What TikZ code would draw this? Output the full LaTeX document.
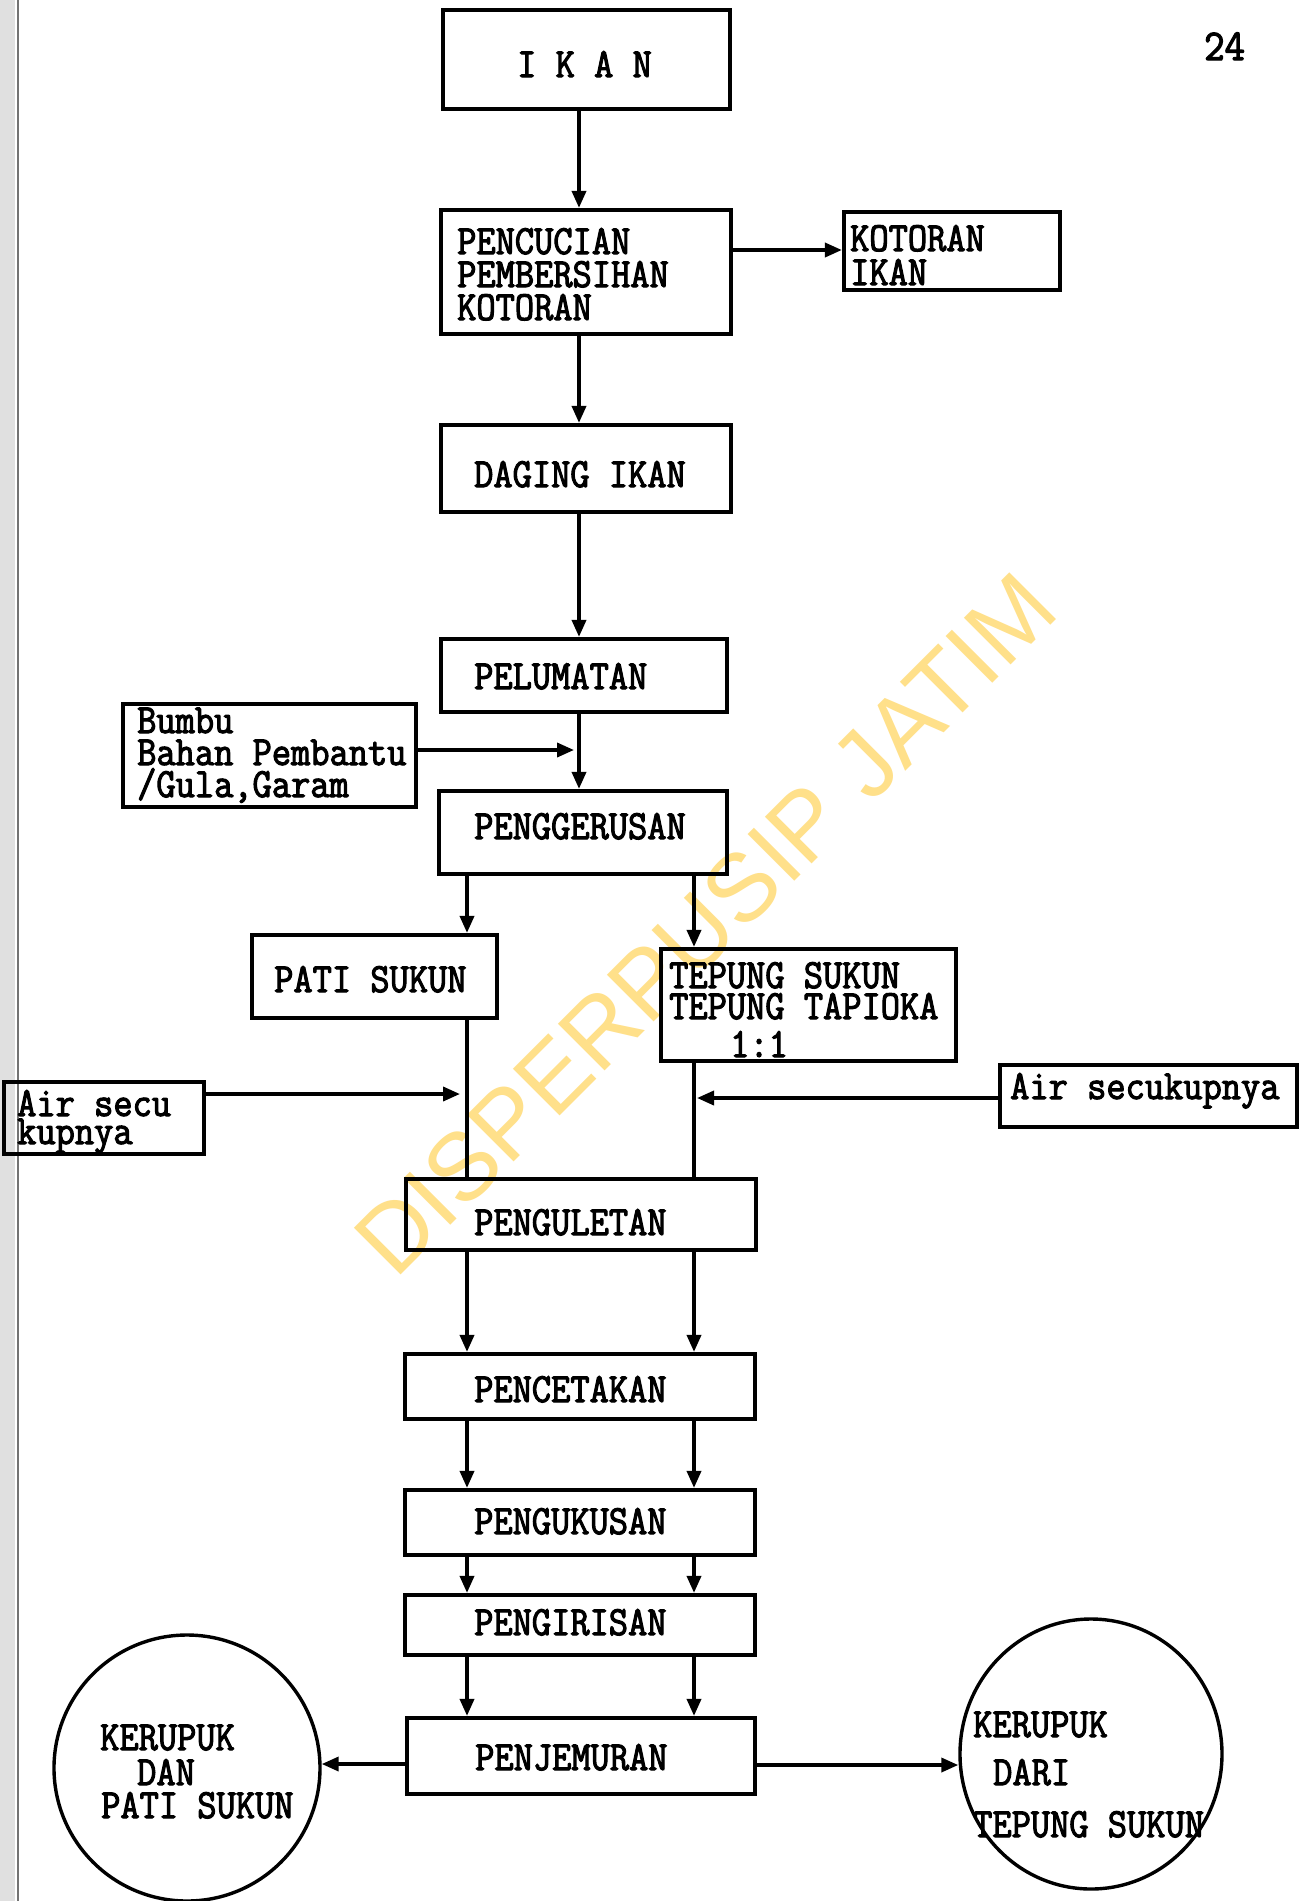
\documentclass[tikz,border=0pt]{standalone}
\usepackage{fontspec}
\usetikzlibrary{arrows.meta,shapes.geometric}
\newfontfamily\tw{Latin Modern Mono}[FakeBold=2.6,FakeStretch=0.9]
\newfontfamily\wmfont{Liberation Sans}
\definecolor{wmyellow}{RGB}{255,224,138}
\tikzset{
  box/.style={draw, line width=4.2pt, rectangle, inner sep=0pt},
  circ/.style={draw, line width=3.4pt, ellipse, inner sep=0pt},
  txt/.style={inner sep=0pt, anchor=base west, font=\tw\fontsize{41.5}{41.5}\selectfont},
  arr/.style={line width=3.6pt, -{Triangle[length=17pt,width=14pt]}},
  ln/.style={line width=3.6pt},
  wm/.style={inner sep=0pt, anchor=base, text=wmyellow, font=\wmfont\fontsize{96}{96}\selectfont}
}
\begin{document}
\begin{tikzpicture}[x=1pt,y=-1pt]
\useasboundingbox (0,0) rectangle (1303,1901);
\fill[white] (0,0) rectangle (1303,1901);
% scan strip at the left edge
\fill[black!12] (0,0) rectangle (15,1901);
\draw[black!55, line width=1.5pt] (18,0) -- (18,1901);

% watermark
\node[wm, rotate=45] (wmark) at (729,947) {DISPERPUSIP JATIM};

% column coordinates
\coordinate (cm) at (579,0);
\coordinate (cL) at (467,0);
\coordinate (cR) at (694,0);
\coordinate (ky) at (0,250);
\coordinate (bj) at (574,750);
\coordinate (al) at (460,1094);
\coordinate (ar) at (697,1098);
\coordinate (ey) at (0,1764);
\coordinate (ez) at (0,1765);

% boxes
\node[box, minimum width=287pt, minimum height=99pt] (ikan) at (586.5,59.5) {};
\node[box, minimum width=290pt, minimum height=124pt] (pc) at (586,272) {};
\node[box, minimum width=216pt, minimum height=78pt] (kot) at (952,251) {};
\node[box, minimum width=290pt, minimum height=87pt] (dag) at (586,468.5) {};
\node[box, minimum width=286pt, minimum height=73pt] (pel) at (584,675.5) {};
\node[box, minimum width=293pt, minimum height=103pt] (bum) at (269.5,755.5) {};
\node[box, minimum width=288pt, minimum height=83pt] (peng) at (583,832.5) {};
\node[box, minimum width=245pt, minimum height=83pt] (pati) at (374.5,976.5) {};
\node[box, minimum width=295pt, minimum height=112pt] (tep) at (808.5,1005) {};
\node[box, minimum width=200pt, minimum height=72pt] (airl) at (104,1118) {};
\node[box, minimum width=297pt, minimum height=62pt] (airr) at (1148.5,1096) {};
\node[box, minimum width=350pt, minimum height=71pt] (gul) at (581,1214.5) {};
\node[box, minimum width=350pt, minimum height=65pt] (cet) at (580,1386.5) {};
\node[box, minimum width=350pt, minimum height=65pt] (kus) at (580,1522.5) {};
\node[box, minimum width=350pt, minimum height=60pt] (iris) at (580,1625) {};
\node[box, minimum width=348pt, minimum height=76pt] (jem) at (581,1756) {};
\node[circ, minimum width=266pt, minimum height=266pt] (el) at (187,1768) {};
\node[circ, minimum width=262pt, minimum height=270pt] (er) at (1091,1754) {};

% texts
\node[txt] (t-ikan) at (517,77) {I K A N};
\node[txt] (t-pc1) at (457,254) {PENCUCIAN};
\node[txt] (t-pc2) at (457,287) {PEMBERSIHAN};
\node[txt] (t-pc3) at (457,320) {KOTORAN};
\node[txt] (t-kot1) at (850,251) {KOTORAN};
\node[txt] (t-kot2) at (850,285) {IKAN};
\node[txt] (t-dag) at (474,487) {DAGING IKAN};
\node[txt] (t-pel) at (474,689) {PELUMATAN};
\node[txt] (t-bum1) at (137,733) {Bumbu};
\node[txt] (t-bum2) at (137,765) {Bahan Pembantu};
\node[txt] (t-bum3) at (137,797) {/Gula,Garam};
\node[txt] (t-peng) at (474,839) {PENGGERUSAN};
\node[txt] (t-pati) at (274,992) {PATI SUKUN};
\node[txt] (t-tep1) at (669,988) {TEPUNG SUKUN};
\node[txt] (t-tep2) at (669,1019) {TEPUNG TAPIOKA};
\node[txt] (t-tep3) at (730,1057) {1:1};
\node[txt] (t-airl1) at (17,1116) {Air secu};
\node[txt] (t-airl2) at (17,1144) {kupnya};
\node[txt] (t-airr) at (1010,1099) {Air secukupnya};
\node[txt] (t-gul) at (474,1235) {PENGULETAN};
\node[txt] (t-cet) at (474,1402) {PENCETAKAN};
\node[txt] (t-kus) at (474,1534) {PENGUKUSAN};
\node[txt] (t-iris) at (474,1635) {PENGIRISAN};
\node[txt] (t-jem) at (475,1770) {PENJEMURAN};
\node[txt] (t-el1) at (100,1750) {KERUPUK};
\node[txt] (t-el2) at (137,1785) {DAN};
\node[txt] (t-el3) at (101,1818) {PATI SUKUN};
\node[txt] (t-er1) at (973,1737) {KERUPUK};
\node[txt] (t-er2) at (993,1785) {DARI};
\node[txt] (t-er3) at (973,1837) {TEPUNG SUKUN};
\node[txt, font=\tw\fontsize{44}{44}\selectfont] (pageno) at (1204,60) {24};

% connectors
\draw[arr] (ikan.south -| cm) -- (pc.north -| cm);
\draw[arr] (pc.east |- ky) -- (kot.west |- ky);
\draw[arr] (pc.south -| cm) -- (dag.north -| cm);
\draw[arr] (dag.south -| cm) -- (pel.north -| cm);
\draw[arr] (pel.south -| cm) -- (peng.north -| cm);
\draw[arr] (bum.east |- bj) -- (bj);
\draw[arr] (peng.south -| cL) -- (pati.north -| cL);
\draw[arr] (peng.south -| cR) -- (tep.north -| cR);
\draw[ln] (pati.south -| cL) -- (gul.north -| cL);
\draw[ln] (tep.south -| cR) -- (gul.north -| cR);
\draw[arr] (airl.east |- al) -- (al);
\draw[arr] (airr.west |- ar) -- (ar);
\draw[arr] (gul.south -| cL) -- (cet.north -| cL);
\draw[arr] (gul.south -| cR) -- (cet.north -| cR);
\draw[arr] (cet.south -| cL) -- (kus.north -| cL);
\draw[arr] (cet.south -| cR) -- (kus.north -| cR);
\draw[arr] (kus.south -| cL) -- (iris.north -| cL);
\draw[arr] (kus.south -| cR) -- (iris.north -| cR);
\draw[arr] (iris.south -| cL) -- (jem.north -| cL);
\draw[arr] (iris.south -| cR) -- (jem.north -| cR);
\draw[arr] (jem.west |- ey) -- (el.east |- ey);
\draw[arr] (jem.east |- ez) -- (er.west |- ez);
\end{tikzpicture}
\end{document}
